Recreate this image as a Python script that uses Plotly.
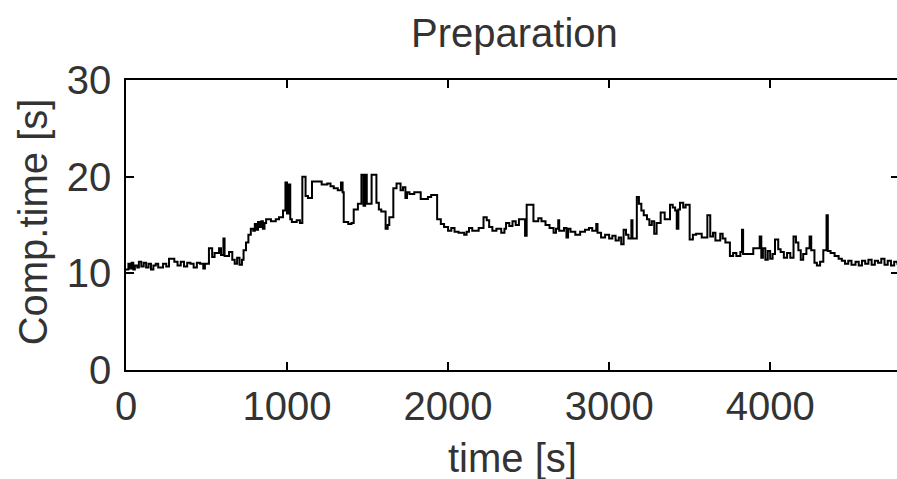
import plotly.graph_objects as go

# Step series: computation time of the preparation phase over the run
time_s = [
    0, 15, 25, 35, 45, 55, 70, 80, 95, 110, 125, 140, 155, 170, 185, 200, 230, 250, 267, 300,
    320, 340, 360, 380, 400, 420, 440, 460, 480, 490, 515, 535, 550, 578, 590, 605, 612, 640, 660, 675,
    690, 705, 720, 730, 745, 760, 775, 790, 800, 810, 820, 830, 840, 850, 860, 870, 900, 930, 950, 975,
    990, 1000, 1010, 1020, 1030, 1060, 1080, 1095, 1115, 1130, 1155, 1215, 1250, 1270, 1290, 1315, 1335, 1345, 1352, 1380,
    1400, 1414, 1440, 1462, 1475, 1485, 1495, 1525, 1555, 1570, 1585, 1612, 1625, 1635, 1660, 1680, 1705, 1720, 1735, 1745,
    1760, 1790, 1830, 1875, 1895, 1932, 1955, 1975, 2000, 2020, 2040, 2065, 2100, 2115, 2130, 2150, 2190, 2220, 2240, 2255,
    2275, 2300, 2330, 2350, 2360, 2380, 2400, 2420, 2440, 2478, 2488, 2530, 2560, 2580, 2605, 2630, 2655, 2670, 2684, 2690,
    2720, 2735, 2745, 2760, 2790, 2820, 2850, 2875, 2895, 2920, 2928, 2950, 2975, 3000, 3020, 3040, 3060, 3075, 3090, 3105,
    3120, 3138, 3145, 3172, 3185, 3200, 3215, 3235, 3250, 3265, 3280, 3295, 3320, 3345, 3378, 3395, 3410, 3420, 3430, 3440,
    3460, 3475, 3500, 3520, 3540, 3575, 3610, 3628, 3645, 3660, 3690, 3705, 3722, 3750, 3770, 3790, 3815, 3825, 3832, 3850,
    3880, 3895, 3935, 3945, 3955, 3970, 3985, 4000, 4015, 4030, 4050, 4065, 4085, 4105, 4125, 4145, 4160, 4175, 4190, 4205,
    4225, 4245, 4255, 4275, 4290, 4310, 4330, 4350, 4358, 4375, 4400, 4425, 4445, 4465, 4485, 4505, 4530, 4550, 4570, 4590,
    4610, 4630, 4650, 4670, 4690, 4710, 4730, 4750, 4770, 4790, 4800,
]
comp_time_s = [
    10.4, 11.0, 10.5, 11.1, 10.4, 10.8, 10.6, 11.2, 10.7, 11.1, 10.6, 11.0, 10.4, 10.8, 11.0, 10.6, 11.0, 10.7, 11.5, 11.2,
    10.8, 11.2, 10.7, 11.1, 11.0, 10.6, 11.1, 11.0, 10.5, 11.0, 12.6, 11.7, 12.1, 12.6, 11.9, 13.6, 11.8, 12.2, 11.4, 11.0,
    11.6, 10.9, 11.4, 12.4, 13.2, 14.0, 14.6, 14.4, 15.1, 14.5, 15.3, 14.8, 15.4, 14.6, 15.2, 15.6, 15.4, 15.6, 15.8, 16.5,
    19.4, 16.2, 19.2, 15.6, 15.3, 15.5, 15.2, 20.0, 18.0, 17.8, 19.5, 19.2, 19.3, 19.0, 18.8, 18.6, 19.4, 18.4, 15.3, 15.1,
    15.2, 16.6, 17.2, 20.2, 17.0, 20.2, 17.2, 20.2, 17.3, 16.6, 16.4, 14.6, 15.0, 15.8, 18.8, 19.3, 18.6, 18.9, 17.8, 18.4,
    18.2, 18.4, 17.7, 17.9, 18.1, 15.6, 15.1, 14.8, 14.4, 14.7, 14.3, 14.2, 14.0, 14.3, 14.7, 14.4, 14.7, 15.8, 15.5, 14.8,
    14.4, 14.6, 14.2, 14.6, 15.2, 14.9, 15.4, 15.0, 15.6, 13.9, 17.1, 15.4, 15.7, 15.4, 15.0, 14.7, 14.2, 14.6, 15.5, 14.4,
    14.7, 13.7, 14.6, 14.3, 14.0, 14.3, 14.5, 14.7, 14.4, 15.1, 14.2, 13.7, 14.0, 13.6, 13.9, 13.4, 13.7, 13.0, 14.5, 14.0,
    13.6, 15.5, 13.6, 17.9, 17.2, 16.5, 16.0, 15.6, 15.0, 15.4, 14.1, 15.2, 16.3, 15.6, 17.1, 16.8, 16.5, 14.6, 16.6, 17.3,
    16.8, 17.1, 13.5, 14.0, 14.1, 13.7, 16.0, 13.8, 14.2, 13.4, 14.1, 13.6, 13.2, 11.8, 12.1, 11.8, 12.2, 14.5, 12.0, 12.0,
    12.0, 12.6, 13.8, 11.6, 12.6, 11.4, 12.3, 11.5, 12.0, 13.5, 12.5, 12.2, 11.6, 12.1, 11.6, 13.8, 13.2, 12.4, 11.4, 12.0,
    12.6, 13.8, 12.4, 11.1, 10.8, 11.2, 12.4, 16.0, 12.3, 12.1, 11.8, 11.5, 11.3, 11.0, 11.3, 10.9, 11.2, 10.8, 11.3, 11.0,
    11.4, 10.9, 11.3, 11.1, 11.5, 10.9, 11.3, 10.8, 11.2, 11.0, 11.0,
]

x_ticks = [0, 1000, 2000, 3000, 4000]
y_ticks = [0, 10, 20, 30]

FONT = "Liberation Sans, Arial, Helvetica, sans-serif"
TEXT_COLOR = "#333333"

fig = go.Figure(
    go.Scatter(
        x=time_s,
        y=comp_time_s,
        mode="lines",
        line=dict(color="black", width=2, shape="hv"),
        showlegend=False,
        hoverinfo="skip",
    )
)

axis_common = dict(
    showline=True,
    linecolor="black",
    linewidth=1.5,
    mirror="ticks",
    ticks="inside",
    ticklen=8,
    tickwidth=1.5,
    tickcolor="black",
    showgrid=False,
    zeroline=False,
    tickfont=dict(family=FONT, size=40, color=TEXT_COLOR),
)

fig.update_layout(
    width=901,
    height=479,
    margin=dict(l=126, r=0, t=80, b=109),
    paper_bgcolor="white",
    plot_bgcolor="white",
    xaxis=dict(range=[0, 4800], tickvals=x_ticks, ticktext=[str(v) for v in x_ticks], **axis_common),
    yaxis=dict(range=[0, 30], tickvals=y_ticks, ticktext=[str(v) for v in y_ticks],
               ticklabelstandoff=5, **axis_common),
    annotations=[
        dict(text="Preparation", xref="paper", yref="paper", x=0.503, y=1.162,
             xanchor="center", yanchor="middle", showarrow=False,
             font=dict(family=FONT, size=40, color=TEXT_COLOR)),
        dict(text="time [s]", xref="paper", yref="paper", x=0.5, y=-0.303,
             xanchor="center", yanchor="middle", showarrow=False,
             font=dict(family=FONT, size=40, color=TEXT_COLOR)),
        dict(text="Comp.time [s]", xref="paper", yref="paper", x=-0.12, y=0.51,
             xanchor="center", yanchor="middle", textangle=-90, showarrow=False,
             font=dict(family=FONT, size=40, color=TEXT_COLOR)),
    ],
)

# The figure is slightly wider than the page, so keep the page from scrolling.
fig.write_html(
    "out.html",
    post_script="document.documentElement.style.overflow='hidden';document.body.style.overflow='hidden';document.body.style.margin='0';",
)
